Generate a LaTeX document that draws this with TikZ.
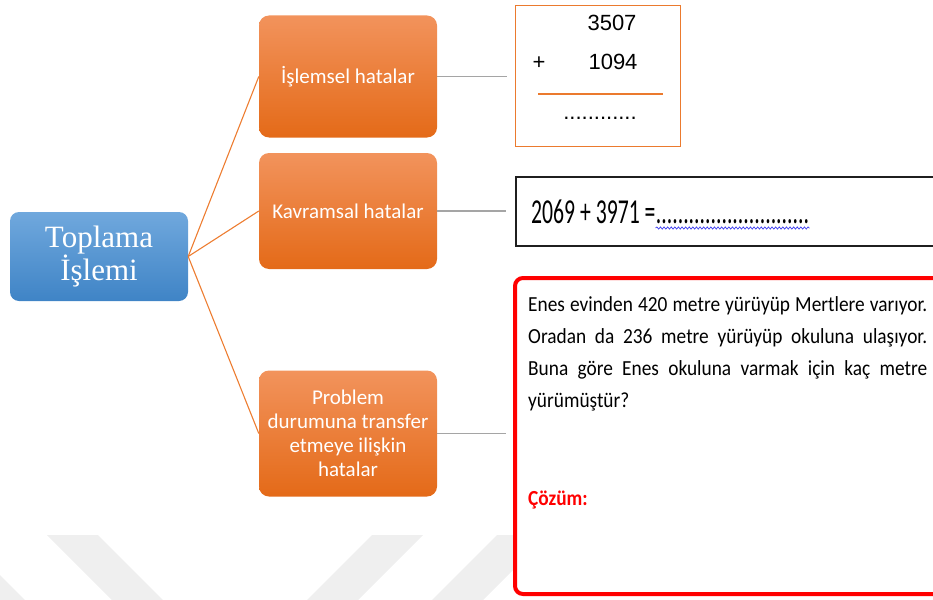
\documentclass[tikz,border=0pt]{standalone}
\usepackage{fontspec}
\setmainfont{Liberation Serif}
\newfontfamily\calib{Carlito}
\newfontfamily\calibcond[FakeStretch=0.62]{Carlito}
\newfontfamily\calibnarrow[FakeStretch=0.9]{Carlito}
\newfontfamily\arialf{Liberation Sans}
\usetikzlibrary{decorations.pathmorphing}

\definecolor{orTop}{HTML}{F2935C}
\definecolor{orBot}{HTML}{E46A18}
\definecolor{blTop}{HTML}{70A8DD}
\definecolor{blBot}{HTML}{3F84C6}
\definecolor{linkOr}{HTML}{ED7D31}
\definecolor{linkGr}{HTML}{A5A5A5}
\definecolor{frameOr}{HTML}{EB7A2E}
\definecolor{wmark}{HTML}{EFEFEF}
\definecolor{squiggle}{HTML}{3A3AF0}

\begin{document}
\begin{tikzpicture}[x=1pt,y=-1pt,
  topic/.style={rounded corners=9pt, top color=blTop, bottom color=blBot,
    minimum width=178pt, minimum height=89pt, inner sep=0pt,
    text=white, align=center, font=\fontsize{31}{32}\selectfont},
  errbox/.style={rounded corners=10pt, top color=orTop, bottom color=orBot,
    minimum width=178pt, inner sep=0pt, text=white, align=center,
    font=\calib\fontsize{21}{24}\selectfont},
  branch/.style={draw=linkOr, line width=1.1pt},
  lead/.style={draw=linkGr, line width=1.1pt},
  frame/.style={minimum width=#1, inner sep=0pt},
  sumtxt/.style={anchor=base, inner sep=0pt, font=\arialf\fontsize{22}{22}\selectfont},
  eqtxt/.style={anchor=base west, inner sep=0pt, font=\calibcond\fontsize{35}{35}\selectfont},
  probtxt/.style={anchor=base west, inner sep=0pt, font=\calibnarrow\fontsize{21.5}{32}\selectfont},
]
\useasboundingbox (0,0) rectangle (933,599);
\clip (0,0) rectangle (933,599);

% faint chevron watermark along the bottom edge
\fill[wmark] (47,535) -- (98,535) -- (168,605) -- (117,605) -- cycle;
\fill[wmark] (372,535) -- (423,535) -- (353,605) -- (302,605) -- cycle;
\fill[wmark] (497,535) -- (548,535) -- (478,605) -- (427,605) -- cycle;
\fill[wmark] (0,575) -- (30,605) -- (0,605) -- cycle;

% main topic and the three error types
\node[topic] (topic) at (99,256.5) {Toplama\\İşlemi};
\node[errbox, minimum height=122pt] (e1) at (348,76.5) {İşlemsel hatalar};
\node[errbox, minimum height=116pt] (e2) at (348,211) {Kavramsal hatalar};
\node[errbox, minimum height=126pt] (e3) at (348,433.5)
  {Problem\\durumuna transfer\\etmeye ilişkin\\hatalar};

\draw[branch] (topic.east) -- (e1.west);
\draw[branch] (topic.east) -- (e2.west);
\draw[branch] (topic.east) -- (e3.west);

% example for operational errors: column addition
\node[frame=165pt, draw=frameOr, line width=1.2pt, minimum height=141pt] (ex1) at (598,76) {};
\node[sumtxt] (a1) at (612,31) {3507};
\node[sumtxt] (plus) at (539,70) {+};
\node[sumtxt] (a2) at (613,70) {1094};
\draw[frameOr, line width=2pt] (538,94) -- (663,94);
\node[sumtxt] (res) at (600,119) {............};

% example for conceptual errors
\node[frame=450pt, draw=black!88, line width=1.6pt, minimum height=69pt] (ex2) at (741,211.5) {};
\node[eqtxt] (eq) at (531,223) {2069 + 3971 =};
\node[eqtxt] (eqdots) at (eq.base east) {............................};
\draw[squiggle, line width=0.7pt, decorate,
  decoration={snake, amplitude=1.1pt, segment length=3.6pt}]
  ([yshift=-5pt]eqdots.base west) -- ([yshift=-5pt]eqdots.base east);

% example for problem-transfer errors
\node[frame=450pt, draw=red, fill=white, line width=4pt, rounded corners=8pt,
  minimum height=316pt] (ex3) at (740,436) {};
\node[probtxt] (p1) at (528,311) {\makebox[399pt][s]{Enes evinden 420 metre yürüyüp Mertlere varıyor.}};
\node[probtxt] (p2) at (528,343) {\makebox[399pt][s]{Oradan da 236 metre yürüyüp okuluna ulaşıyor.}};
\node[probtxt] (p3) at (528,375) {\makebox[399pt][s]{Buna göre Enes okuluna varmak için kaç metre}};
\node[probtxt] (p4) at (528,407) {yürümüştür?};
\node[probtxt, text=red, font=\calibnarrow\bfseries\fontsize{21.5}{32}\selectfont] (sol) at (528,505) {Çözüm:};

% leads from error types to their examples
\draw[lead] (e1.east) -- ([xshift=-8pt]e1.east -| ex1.west);
\draw[lead] (e2.east) -- ([xshift=-9pt]e2.east -| ex2.west);
\draw[lead] (e3.east) -- ([xshift=-7pt]e3.east -| ex3.west);
\end{tikzpicture}
\end{document}
